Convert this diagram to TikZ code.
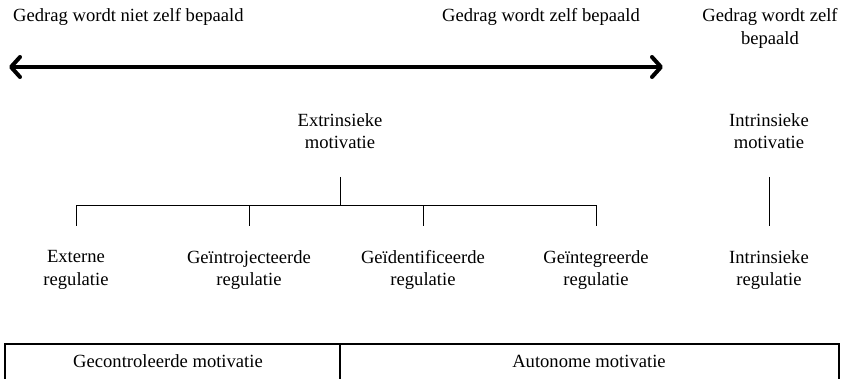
\documentclass[tikz,border=0pt]{standalone}
\usepackage{fontspec}
\setmainfont{Liberation Serif}
\usetikzlibrary{arrows.meta}
\begin{document}
\begin{tikzpicture}[x=1pt,y=-1pt,
  lbl/.style={inner sep=0pt, align=center, font=\fontsize{18.6}{22.5}\selectfont},
  tree/.style={line width=1pt},
  boxline/.style={line width=1.3pt},
  bigarrow/.style={line width=4pt, line cap=round,
    {Straight Barb[length=9pt,width=20pt,line cap=round,line join=round]}-{Straight Barb[length=9pt,width=20pt,line cap=round,line join=round]}}]
\useasboundingbox (0,0) rectangle (841,378);
% top labels
\node[lbl, anchor=west] (t1) at (13,17) {Gedrag wordt niet zelf bepaald};
\node[lbl] (t2) at (541,17) {Gedrag wordt zelf bepaald};
\node[lbl] (t3) at (770,28.5) {Gedrag wordt zelf\\bepaald};
% arrow
\coordinate (al) at (9,67);
\coordinate (ar) at (663,67);
\draw[bigarrow] (al) -- (ar);
% motivation nodes
\node[lbl] (ext) at (340,131) {Extrinsieke\\motivatie};
\node[lbl] (intm) at (769,131) {Intrinsieke\\motivatie};
% regulation nodes
\node[lbl] (r1) at (76,270) {Externe\\regulatie};
\node[lbl] (r2) at (249,270) {Geïntrojecteerde\\regulatie};
\node[lbl] (r3) at (423,270) {Geïdentificeerde\\regulatie};
\node[lbl] (r4) at (596,270) {Geïntegreerde\\regulatie};
\node[lbl] (r5) at (769,270) {Intrinsieke\\regulatie};
% tree
\coordinate (jx) at (340,205);
\coordinate (j1) at (76,205);
\coordinate (j2) at (249,205);
\coordinate (j3) at (423,205);
\coordinate (j4) at (596,205);
\draw[tree, shorten <=28pt] (ext.south) -- (jx);
\draw[tree] (j1) -- (j4);
\draw[tree, shorten >=24pt] (j1) -- (r1.north);
\draw[tree, shorten >=24pt] (j2) -- (r2.north);
\draw[tree, shorten >=24pt] (j3) -- (r3.north);
\draw[tree, shorten >=24pt] (j4) -- (r4.north);
\draw[tree, shorten <=28pt, shorten >=24pt] (intm.south) -- (r5.north);
% bottom box
\coordinate (b1) at (5,380);
\coordinate (b2) at (5,344);
\coordinate (b3) at (839,344);
\coordinate (b4) at (839,380);
\coordinate (bm1) at (340,344);
\coordinate (bm2) at (340,380);
\draw[boxline] (b1) -- (b2) -- (b3) -- (b4);
\draw[boxline] (bm1) -- (bm2);
\node[lbl] (gc) at (168,361) {Gecontroleerde motivatie};
\node[lbl] (am) at (589,361) {Autonome motivatie};
\end{tikzpicture}
\end{document}
